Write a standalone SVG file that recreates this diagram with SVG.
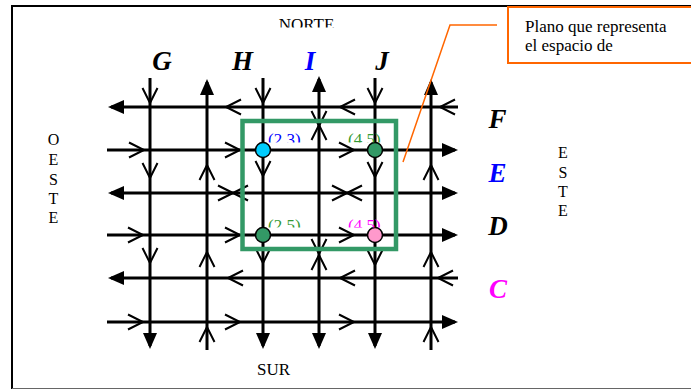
<svg xmlns="http://www.w3.org/2000/svg" width="691" height="389" viewBox="0 0 691 389">
<style>
.ln{stroke:#000;stroke-width:3;fill:none}
.chev{fill:none;stroke:#000;stroke-width:2}
.t{font-family:"Liberation Serif","Times New Roman",serif;font-size:17px;fill:#000}
.big{font-family:"Liberation Serif","Times New Roman",serif;font-size:27px;font-weight:bold;font-style:italic;text-anchor:middle;fill:#000}
.dir{font-family:"Liberation Serif","Times New Roman",serif;font-size:16px;text-anchor:middle;fill:#000}
.dot{stroke:#000;stroke-width:1.5}
</style>
<defs>
<marker id="ah" viewBox="0 0 16 14" refX="13" refY="7" markerWidth="16" markerHeight="14" markerUnits="userSpaceOnUse" orient="auto-start-reverse"><path d="M0,0 L16,7 L0,14 z" fill="#000"/></marker>
<path id="ch" class="chev" d="M-15,-7.5 L0,0 L-15,7.5"/>
<path id="xx" class="chev" d="M-15,-7.5 L15,7.5 M-15,7.5 L15,-7.5"/>
<clipPath id="cN"><rect x="250" y="0" width="120" height="27.5"/></clipPath>
<clipPath id="cTop"><rect x="260" y="120" width="130" height="22.5"/></clipPath>
<clipPath id="cBot"><rect x="260" y="205" width="130" height="22.5"/></clipPath>
</defs>
<rect width="691" height="389" fill="#fff"/>
<g id="frame">
<path d="M12,389 V6 H691" fill="none" stroke="#000" stroke-width="2"/>
<line x1="12" y1="388.5" x2="691" y2="388.5" stroke="#666" stroke-width="1"/>
</g>
<g id="connectors">
<line class="ln" x1="150" y1="78" x2="150" y2="346" marker-end="url(#ah)"/>
<line class="ln" x1="207" y1="350" x2="207" y2="82" marker-end="url(#ah)"/>
<line class="ln" x1="263" y1="78" x2="263" y2="346" marker-end="url(#ah)"/>
<line class="ln" x1="319" y1="79" x2="319" y2="346" marker-start="url(#ah)" marker-end="url(#ah)"/>
<line class="ln" x1="375" y1="78" x2="375" y2="346" marker-end="url(#ah)"/>
<line class="ln" x1="431" y1="350" x2="431" y2="82" marker-end="url(#ah)"/>
<line class="ln" x1="458" y1="107" x2="111" y2="107" marker-end="url(#ah)"/>
<line class="ln" x1="107" y1="150" x2="455" y2="150" marker-end="url(#ah)"/>
<line class="ln" x1="111" y1="193" x2="455" y2="193" marker-start="url(#ah)" marker-end="url(#ah)"/>
<line class="ln" x1="107" y1="235" x2="455" y2="235" marker-end="url(#ah)"/>
<line class="ln" x1="458" y1="278" x2="111" y2="278" marker-end="url(#ah)"/>
<line class="ln" x1="107" y1="322" x2="455" y2="322" marker-end="url(#ah)"/>
<use href="#ch" transform="translate(150,103) rotate(90)"/>
<use href="#ch" transform="translate(150,178) rotate(90)"/>
<use href="#ch" transform="translate(150,263) rotate(90)"/>
<use href="#ch" transform="translate(207,165) rotate(-90)"/>
<use href="#ch" transform="translate(207,252) rotate(-90)"/>
<use href="#ch" transform="translate(207,327) rotate(-90)"/>
<use href="#ch" transform="translate(263,103) rotate(90)"/>
<use href="#ch" transform="translate(263,176) rotate(90)"/>
<use href="#ch" transform="translate(263,263) rotate(90)"/>
<use href="#ch" transform="translate(319,126) rotate(90)"/>
<use href="#ch" transform="translate(319,125) rotate(-90)"/>
<use href="#ch" transform="translate(319,254) rotate(90)"/>
<use href="#ch" transform="translate(319,255) rotate(-90)"/>
<use href="#ch" transform="translate(375,103) rotate(90)"/>
<use href="#ch" transform="translate(375,177) rotate(90)"/>
<use href="#ch" transform="translate(375,265) rotate(90)"/>
<use href="#ch" transform="translate(431,165) rotate(-90)"/>
<use href="#ch" transform="translate(431,252) rotate(-90)"/>
<use href="#ch" transform="translate(431,327) rotate(-90)"/>
<use href="#ch" transform="translate(226,107) rotate(180)"/>
<use href="#ch" transform="translate(340,107) rotate(180)"/>
<use href="#ch" transform="translate(440,107) rotate(180)"/>
<use href="#ch" transform="translate(144,150)"/>
<use href="#ch" transform="translate(240,150)"/>
<use href="#ch" transform="translate(354,150)"/>
<use href="#xx" transform="translate(233,193)"/>
<use href="#xx" transform="translate(347,193)"/>
<use href="#ch" transform="translate(143,235)"/>
<use href="#ch" transform="translate(240,235)"/>
<use href="#ch" transform="translate(354,235)"/>
<use href="#ch" transform="translate(228,278) rotate(180)"/>
<use href="#ch" transform="translate(340,278) rotate(180)"/>
<use href="#ch" transform="translate(438,278) rotate(180)"/>
<use href="#ch" transform="translate(143,322)"/>
<use href="#ch" transform="translate(240,322)"/>
<use href="#ch" transform="translate(354,322)"/>
<path d="M497,25 H450 L403,162" fill="none" stroke="#FF6600" stroke-width="1.5"/>
</g>
<g id="plano">
<rect x="242.5" y="121" width="153.5" height="128" fill="none" stroke="#339966" stroke-width="4.5"/>
</g>
<g id="p23"><circle class="dot" cx="263" cy="150" r="7.5" fill="#00CCFF"/><text class="t" x="268" y="145" fill="#0000FF" style="fill:#0000FF" clip-path="url(#cTop)">(2,3)</text></g>
<g id="p45a"><circle class="dot" cx="375" cy="150" r="7.5" fill="#339966"/><text class="t" x="348" y="145" style="fill:#339933" clip-path="url(#cTop)">(4,5)</text></g>
<g id="p25"><circle class="dot" cx="263" cy="235" r="7.5" fill="#339966"/><text class="t" x="268" y="231" style="fill:#339933" clip-path="url(#cBot)">(2,5)</text></g>
<g id="p45b"><circle class="dot" cx="375" cy="235" r="7.5" fill="#FF99CC"/><text class="t" x="348" y="231" style="fill:#FF00FF" clip-path="url(#cBot)">(4,5)</text></g>
<g id="callout">
<rect x="508" y="7" width="200" height="56" fill="none" stroke="#FF6600" stroke-width="2"/>
<text class="t" x="525" y="32">Plano que representa</text>
<text class="t" x="525" y="51">el espacio de</text>
</g>
<g id="labels">
<text class="t" x="306.5" y="29.5" text-anchor="middle" clip-path="url(#cN)">NORTE</text>
<text class="t" x="273.5" y="375" text-anchor="middle">SUR</text>
<text class="dir" x="53.5" y="145">O</text>
<text class="dir" x="53.5" y="165">E</text>
<text class="dir" x="53.5" y="184.5">S</text>
<text class="dir" x="53.5" y="204">T</text>
<text class="dir" x="53.5" y="223">E</text>
<text class="dir" x="563" y="158">E</text>
<text class="dir" x="563" y="178">S</text>
<text class="dir" x="563" y="197">T</text>
<text class="dir" x="563" y="216">E</text>
<text class="big" x="162" y="70">G</text>
<text class="big" x="242.5" y="70">H</text>
<text class="big" x="310" y="70" style="fill:#0000FF">I</text>
<text class="big" x="382" y="70">J</text>
<text class="big" x="497.5" y="128">F</text>
<text class="big" x="497.5" y="182" style="fill:#0000FF">E</text>
<text class="big" x="498" y="235">D</text>
<text class="big" x="498" y="298" style="fill:#FF00FF">C</text>
</g>
</svg>
